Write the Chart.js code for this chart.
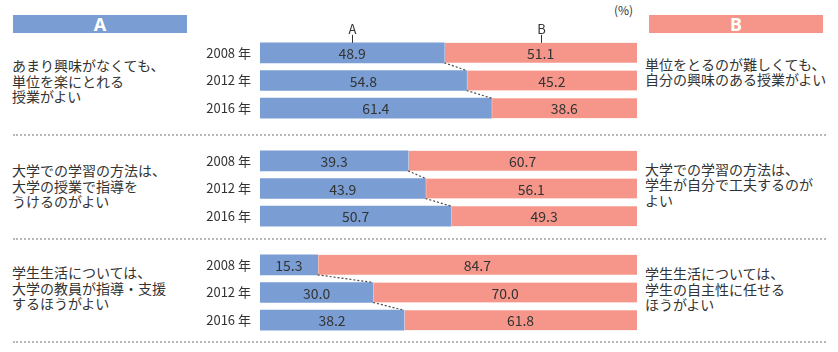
<!DOCTYPE html>
<html><head><meta charset="utf-8">
<script src="https://cdn.jsdelivr.net/npm/chart.js@4"></script>
<style>
body{margin:0;width:838px;height:352px;background:#fff;position:relative;font-family:"Noto Sans CJK JP",sans-serif;color:#333;overflow:hidden}
.abs{position:absolute}
.hdr{height:18px;line-height:19px;text-align:center;color:#fff;font-weight:bold;font-size:18px;font-family:"Noto Sans",sans-serif}
.txt{font-size:14px;line-height:15.7px;white-space:nowrap}
.sep{left:13px;width:813px;height:0;border-top:2px dotted #b8b8b8}
canvas{position:absolute;left:200px}
</style></head>
<body>
<script>
// ---- data ----
const years = ['2008 年', '2012 年', '2016 年'];
const q1A = [48.9, 54.8, 61.4];
const q1B = [51.1, 45.2, 38.6];
const q2A = [39.3, 43.9, 50.7];
const q2B = [60.7, 56.1, 49.3];
const q3A = [15.3, 30.0, 38.2];
const q3B = [84.7, 70.0, 61.8];
const leftTexts = [
  ['あまり興味がなくても、', '単位を楽にとれる', '授業がよい'],
  ['大学での学習の方法は、', '大学の授業で指導を', 'うけるのがよい'],
  ['学生生活については、', '大学の教員が指導・支援', 'するほうがよい']
];
const rightTexts = [
  ['単位をとるのが難しくても、', '自分の興味のある授業がよい'],
  ['大学での学習の方法は、', '学生が自分で工夫するのが', 'よい'],
  ['学生生活については、', '学生の自主性に任せる', 'ほうがよい']
];
const headerA = 'A';
const headerB = 'B';
const markerLabels = ['A', 'B'];
const unitLabel = '(%)';

// ---- styles / layout ----
const BLUE = '#7a9ed3';
const PINK = '#f6968a';
const TEXT = '#333333';
const FONT = '"Noto Sans CJK JP", sans-serif';

function addDiv(cls, left, top, html, extra) {
  const d = document.createElement('div');
  d.className = 'abs ' + cls;
  d.style.left = left + 'px';
  d.style.top = top + 'px';
  if (extra) Object.assign(d.style, extra);
  d.innerHTML = html;
  document.body.appendChild(d);
  return d;
}

addDiv('hdr', 13, 15, headerA, {width: '174px', background: BLUE});
addDiv('hdr', 649, 15, headerB, {width: '174px', background: PINK});
addDiv('txt', 614, 2, unitLabel, {fontSize: '12px'});

[134, 238, 341].forEach(y => addDiv('sep', 13, y, ''));

const leftTops = [58, 163, 265];
const rightTops = [56.5, 161.5, 266];
leftTexts.forEach((lines, i) => addDiv('txt', 12, leftTops[i], lines.join('<br>')));
rightTexts.forEach((lines, i) => addDiv('txt', 645, rightTops[i], lines.join('<br>')));

const barLabels = {
  id: 'barLabels',
  afterDatasetsDraw(chart, args, opts) {
    const ctx = chart.ctx;
    const a = chart.getDatasetMeta(0).data;
    const b = chart.getDatasetMeta(1).data;
    ctx.save();
    // connectors
    ctx.setLineDash([2, 2]);
    ctx.strokeStyle = '#4a4a4a';
    ctx.lineWidth = 1.2;
    for (let i = 0; i < a.length - 1; i++) {
      ctx.beginPath();
      ctx.moveTo(a[i].x, a[i].y + a[i].height / 2);
      ctx.lineTo(a[i + 1].x, a[i + 1].y - a[i + 1].height / 2);
      ctx.stroke();
    }
    ctx.setLineDash([]);
    // values
    ctx.font = '14px ' + FONT;
    ctx.fillStyle = TEXT;
    ctx.textAlign = 'center';
    ctx.textBaseline = 'middle';
    chart.data.datasets.forEach((ds, di) => {
      chart.getDatasetMeta(di).data.forEach((bar, i) => {
        ctx.fillText(ds.data[i].toFixed(1), (bar.x + bar.base) / 2, bar.y + 1);
      });
    });
    // markers
    if (opts && opts.markers) {
      ctx.font = '13px ' + FONT;
      ctx.strokeStyle = TEXT;
      ctx.lineWidth = 1;
      [a[0], b[0]].forEach((bar, k) => {
        const x = Math.round((bar.x + bar.base) / 2) + 0.5;
        const top = bar.y - bar.height / 2;
        ctx.beginPath();
        ctx.moveTo(x, top - 8);
        ctx.lineTo(x, top);
        ctx.stroke();
        ctx.fillText(markerLabels[k], x, top - 14);
      });
    }
    ctx.restore();
  }
};

function makeChart(top, padTop, aVals, bVals, markers) {
  const c = document.createElement('canvas');
  c.width = 440;
  c.height = 83 + padTop;
  c.style.top = top + 'px';
  document.body.appendChild(c);
  new Chart(c, {
    type: 'bar',
    data: {
      labels: years,
      datasets: [
        {data: aVals, backgroundColor: BLUE, borderWidth: 0, barThickness: 20},
        {data: bVals, backgroundColor: PINK, borderColor: '#ffffff', borderSkipped: false,
         borderWidth: {left: 1, right: 0, top: 0, bottom: 0}, barThickness: 20}
      ]
    },
    options: {
      indexAxis: 'y',
      responsive: false,
      animation: false,
      layout: {padding: {top: padTop, right: 3, left: 0, bottom: 0}},
      plugins: {legend: {display: false}, tooltip: {enabled: false}, barLabels: {markers: markers}},
      scales: {
        x: {stacked: true, min: 0, max: 100, display: false},
        y: {
          stacked: true,
          grid: {display: false, drawTicks: false},
          border: {display: false},
          ticks: {color: TEXT, font: {size: 13, family: FONT}, padding: 9},
          afterFit(axis) { axis.width = 60; axis.paddingTop = 0; axis.paddingBottom = 0; }
        }
      }
    },
    plugins: [barLabels]
  });
}

makeChart(9, 30, q1A, q1B, true);
makeChart(147, 0, q2A, q2B, false);
makeChart(251, 0, q3A, q3B, false);
</script>
</body></html>
